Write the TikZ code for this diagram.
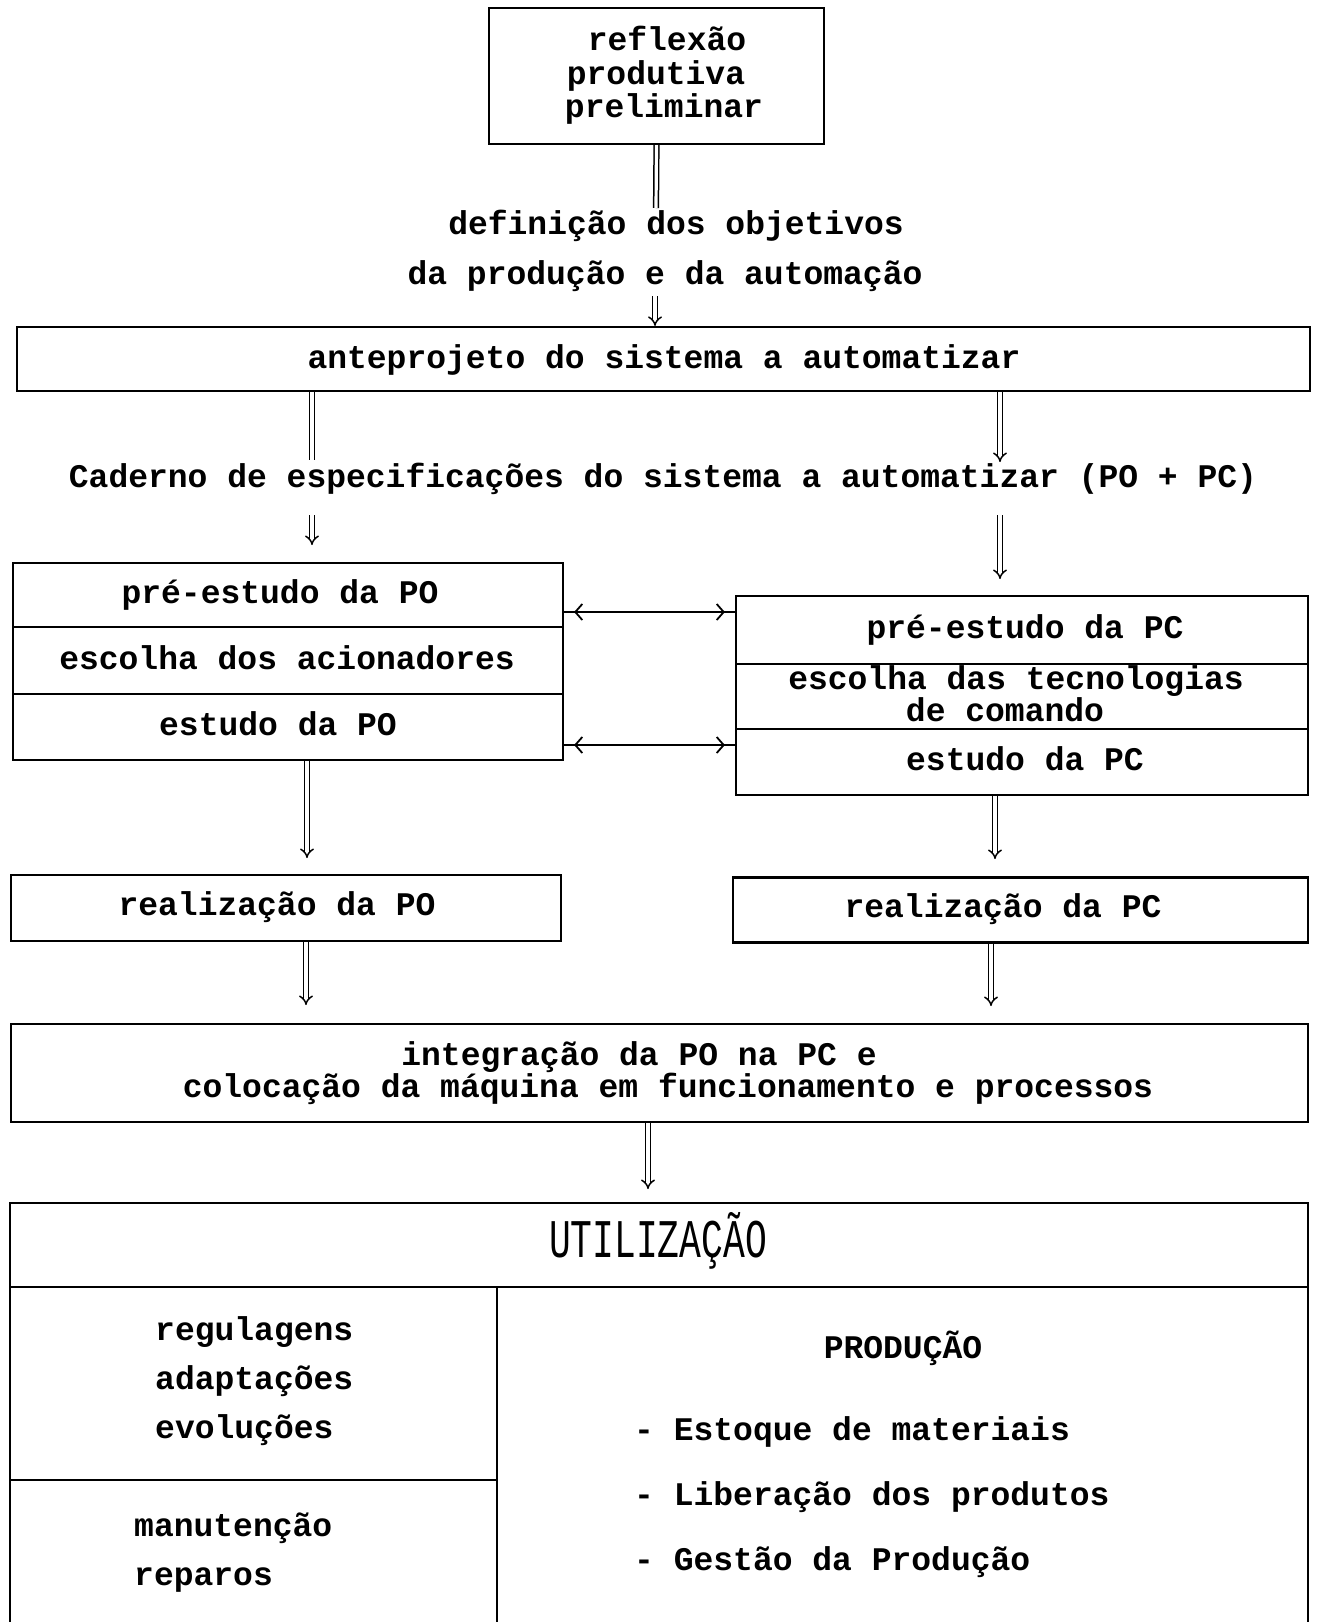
\documentclass[tikz,border=0pt]{standalone}
\usepackage{fontspec}
\setmonofont{Liberation Mono}
\usetikzlibrary{arrows.meta}
\begin{document}
\begin{tikzpicture}[x=1pt,y=-1pt,
  box/.style={draw,line width=2.2pt,inner sep=0pt},
  txt/.style={inner sep=0pt,font=\ttfamily\bfseries\fontsize{33}{34}\selectfont,text height=0.42em,text depth=0pt,yshift=-8pt},
  btxt/.style={inner sep=0pt,font=\ttfamily\bfseries\fontsize{33}{34}\selectfont,text height=0.42em,text depth=0pt,yshift=-7pt},
  dbl/.style={double,double distance=3.2pt,line width=1.5pt},
  dblarr/.style={dbl,-{Implies[length=7pt,width=14pt]}},
  biline/.style={line width=1.8pt},
  biarr/.style={line width=1.8pt,{Straight Barb[length=7pt,width=16pt]}-{Straight Barb[length=7pt,width=16pt]},shorten <=10pt,shorten >=10pt},
]
\clip (0,0) rectangle (1318,1622);
\useasboundingbox (0,0) rectangle (1318,1622);

% top box
\node[box,minimum width=335pt,minimum height=136pt] (b1) at (656.5,76) {};
\node[txt] (b1l1) at (667,40) {reflexão};
\node[txt] (b1l2) at (656,74) {produtiva};
\node[txt] (b1l3) at (664,107) {preliminar};

\coordinate (a1e) at (656,208);
\draw[dbl] (b1.south) -- (a1e);
\node[txt] (def1) at (676,224) {definição dos objetivos};
\node[txt] (def2) at (665,274) {da produção e da automação};
\coordinate (a2s) at (655,296);

\node[box,minimum width=1293pt,minimum height=64pt] (b2) at (663.5,359) {};
\node[txt] (b2t) at (664,358) {anteprojeto do sistema a automatizar};
\draw[dblarr] (a2s) -- (a2s |- b2.north);

\coordinate (a3e) at (312,460);
\coordinate (a4e) at (1000,462);
\draw[dbl] (b2.south -| a3e) -- (a3e);
\draw[dblarr] (b2.south -| a4e) -- (a4e);

\node[txt] (cad) at (663,477) {Caderno de especificações do sistema a automatizar (PO + PC)};

\coordinate (a5s) at (312,515);
\coordinate (a5e) at (312,545);
\coordinate (a6s) at (1000,515);
\coordinate (a6e) at (1000,579);
\draw[dblarr] (a5s) -- (a5e);
\draw[dblarr] (a6s) -- (a6e);

% PO group
\node[box,minimum width=550pt,minimum height=64pt] (po1) at (288,595) {};
\node[box,minimum width=550pt,minimum height=67pt] (po2) at (288,660.5) {};
\node[box,minimum width=550pt,minimum height=66pt] (po3) at (288,727) {};
\node[txt] (po1t) at (280,593) {pré-estudo da PO};
\node[txt] (po2t) at (287,659) {escolha dos acionadores};
\node[txt] (po3t) at (278,725) {estudo da PO};

% PC group
\node[box,minimum width=572pt,minimum height=68pt] (pc1) at (1022,630) {};
\node[box,minimum width=572pt,minimum height=65pt] (pc2) at (1022,696.5) {};
\node[box,minimum width=572pt,minimum height=66pt] (pc3) at (1022,762) {};
\node[txt] (pc1t) at (1025,628) {pré-estudo da PC};
\node[txt] (pc2t1) at (1016,679) {escolha das tecnologias};
\node[txt] (pc2t2) at (1005,711) {de comando};
\node[txt] (pc3t) at (1025,760) {estudo da PC};

% bidirectional links
\coordinate (bia) at (650,612);
\coordinate (bib) at (650,745);
\draw[biline] (po1.east |- bia) -- (pc1.west |- bia);
\draw[biarr] (po1.east |- bia) -- (pc1.west |- bia);
\draw[biline] (po3.east |- bib) -- (pc3.west |- bib);
\draw[biarr] (po3.east |- bib) -- (pc3.west |- bib);

% realization boxes
\node[box,minimum width=550pt,minimum height=66pt] (rpo) at (286,908) {};
\node[txt] (rpot) at (277,905) {realização da PO};
\node[box,minimum width=575pt,minimum height=65pt] (rpc) at (1020.5,910) {};
\node[txt] (rpct) at (1003,907) {realização da PC};

\coordinate (a7e) at (307,858);
\coordinate (a8e) at (995,859);
\draw[dblarr] (po3.south -| a7e) -- (a7e);
\draw[dblarr] (pc3.south -| a8e) -- (a8e);

% integration
\node[box,minimum width=1297pt,minimum height=98pt] (integ) at (659.5,1073) {};
\node[txt] (integt1) at (639,1055) {integração da PO na PC e};
\node[txt] (integt2) at (668,1087) {colocação da máquina em funcionamento e processos};

\coordinate (a9e) at (306,1005);
\coordinate (a10e) at (991,1006);
\draw[dblarr] (rpo.south -| a9e) -- (a9e);
\draw[dblarr] (rpc.south -| a10e) -- (a10e);

% utilization
\node[box,minimum width=1298pt,minimum height=84pt] (uh) at (659,1245) {};
\node[inner sep=0pt,font=\ttfamily\fontsize{33}{34}\selectfont,text height=31pt,text depth=0pt] (uht) at (658,1242) {\scalebox{1.1}[1.65]{UTILIZAÇÃO}};
\coordinate (a11e) at (648,1189);
\draw[dblarr] (integ.south -| a11e) -- (a11e);

\node[box,minimum width=487pt,minimum height=193pt] (ul) at (253.5,1383.5) {};
\node[box,minimum width=487pt,minimum height=180pt] (ll) at (253.5,1570) {};
\node[box,minimum width=811pt,minimum height=373pt] (rc) at (902.5,1473.5) {};

\node[btxt,anchor=west] (u1) at (155,1331) {regulagens};
\node[btxt,anchor=west] (u2) at (155,1380) {adaptações};
\node[btxt,anchor=west] (u3) at (155,1429) {evoluções};
\node[btxt,anchor=west] (u4) at (134,1527) {manutenção};
\node[btxt,anchor=west] (u5) at (134,1576) {reparos};

\node[btxt] (prod) at (903,1349) {PRODUÇÃO};
\node[btxt,anchor=west] (p1) at (634,1431) {- Estoque de materiais};
\node[btxt,anchor=west] (p2) at (634,1496) {- Liberação dos produtos};
\node[btxt,anchor=west] (p3) at (634,1561) {- Gestão da Produção};
\end{tikzpicture}
\end{document}
